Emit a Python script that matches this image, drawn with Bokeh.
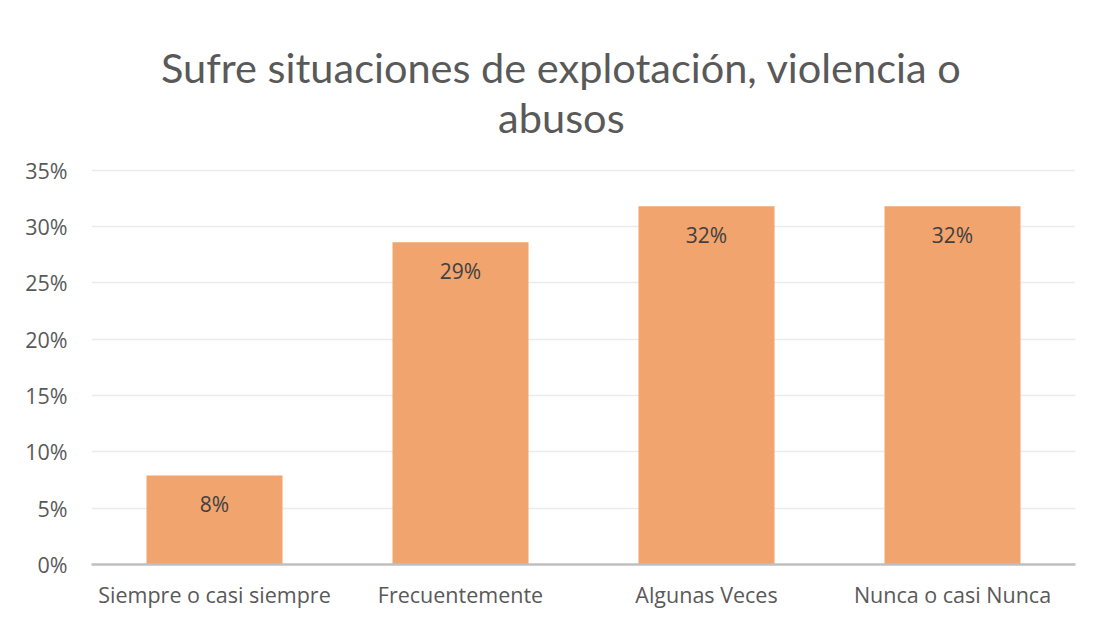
from bokeh.plotting import figure
from bokeh.models import Range1d, FixedTicker, PrintfTickFormatter, ColumnDataSource
from bokeh.core.properties import value
from bokeh.embed import file_html
from bokeh.resources import INLINE

categories = ["Siempre o casi siempre", "Frecuentemente", "Algunas Veces", "Nunca o casi Nunca"]
values = [7.9, 28.6, 31.8, 31.8]
y_ticks = [0, 5, 10, 15, 20, 25, 30, 35]
title_lines = ["Sufre situaciones de explotación, violencia o", "abusos"]

xs = list(range(len(categories)))
labels = [f"{v:.0f}%" for v in values]
src = ColumnDataSource(dict(x=xs, top=values, label=labels))

FONT = "Open Sans"

p = figure(width=1086, height=611, output_backend="svg", toolbar_location=None,
           x_range=Range1d(-0.5, len(categories) - 0.5), y_range=Range1d(0, 49.35),
           min_border_left=91, min_border_right=11, min_border_top=8, min_border_bottom=46)
p.outline_line_color = None
p.background_fill_color = "white"
p.border_fill_color = "white"

p.vbar(x="x", top="top", width=0.553, bottom=0, source=src,
       fill_color="#F1A46D", line_color=None)

p.text(x="x", y="top", text="label", source=src, text_align="center", text_baseline="middle",
       y_offset=29, text_font=value(FONT), text_font_size="21px", text_color="#404040")

# title
p.text(x=[1.41, 1.41], y=[44.2, 39.75], text=title_lines, text_align="center", text_baseline="middle",
       text_font=value("Lato"), text_font_size="41.5px", text_color="#595959")

p.yaxis.ticker = FixedTicker(ticks=y_ticks)
p.yaxis.formatter = PrintfTickFormatter(format="%d%%")
p.yaxis.axis_line_color = None
p.yaxis.major_tick_line_color = None
p.yaxis.minor_tick_line_color = None
p.yaxis.major_label_standoff = 18
p.yaxis.major_label_text_font = FONT
p.yaxis.major_label_text_font_size = "21.5px"
p.yaxis.major_label_text_color = "#595959"

p.xaxis.ticker = FixedTicker(ticks=xs)
p.xaxis.major_label_overrides = {i: c for i, c in zip(xs, categories)}
p.xaxis.axis_line_color = "#BFBFBF"
p.xaxis.axis_line_width = 2.5
p.xaxis.major_tick_line_color = None
p.xaxis.minor_tick_line_color = None
p.xaxis.major_label_standoff = 9
p.xaxis.major_label_text_font = FONT
p.xaxis.major_label_text_font_size = "21.5px"
p.xaxis.major_label_text_color = "#595959"

p.xgrid.grid_line_color = None
p.ygrid.ticker = FixedTicker(ticks=y_ticks[1:])
p.ygrid.grid_line_color = "#EBEBEB"
p.ygrid.grid_line_width = 1.5

open("out.html", "w").write(file_html(p, INLINE))
